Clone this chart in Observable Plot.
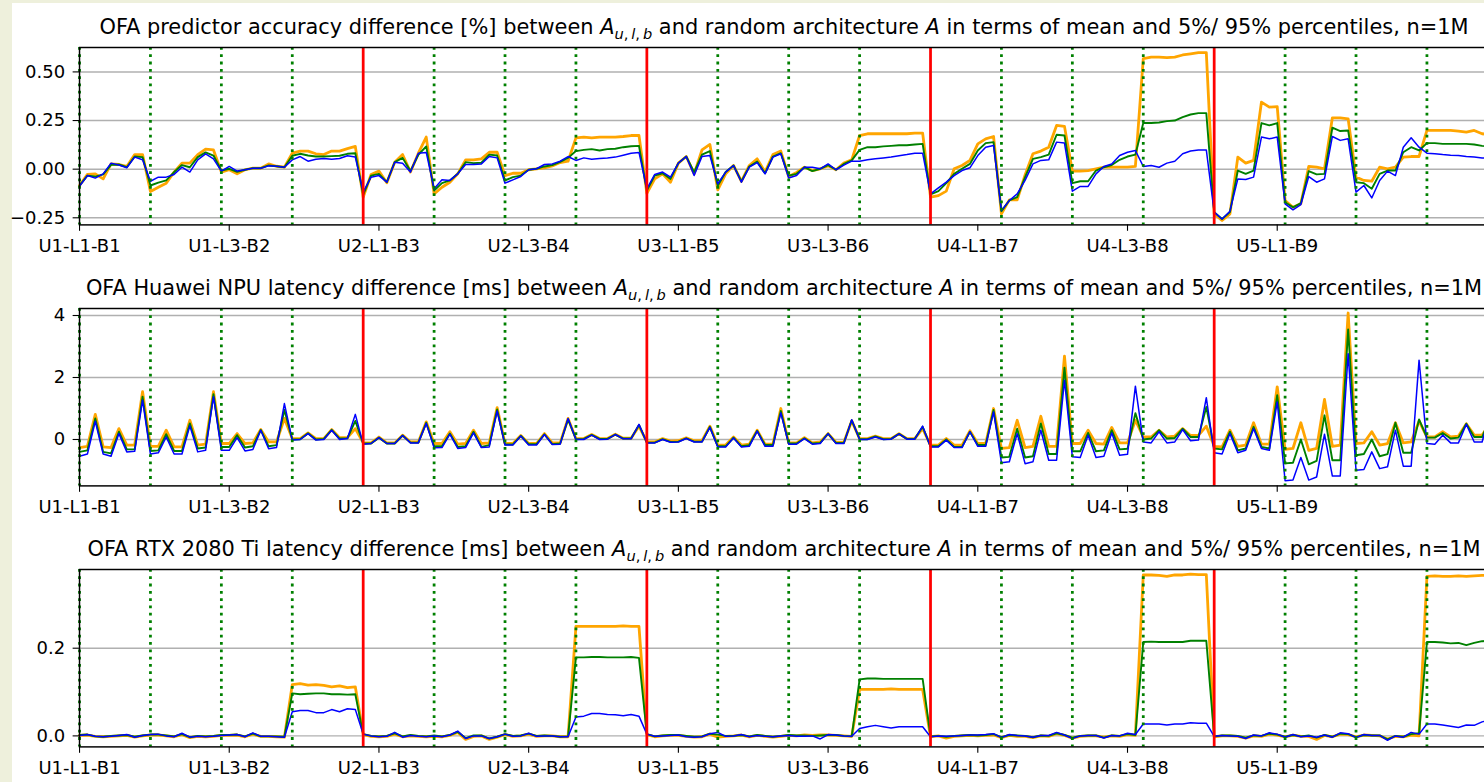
<!DOCTYPE html>
<html><head><meta charset="utf-8">
<script src="https://cdn.jsdelivr.net/npm/d3@7"></script>
<script src="https://cdn.jsdelivr.net/npm/@observablehq/plot@0.6"></script>
<style>
html,body{margin:0;padding:0;width:1484px;height:782px;overflow:hidden;background:#eef0dc;}
#page{position:absolute;left:12px;top:3px;right:0;bottom:0;background:#fff;}
.ttl{position:absolute;left:79px;width:1410px;text-align:center;font-family:"DejaVu Sans";font-size:20.9px;line-height:20.9px;white-space:nowrap;color:#000;}
.sub{font-size:70%;position:relative;top:0.32em;}
.pnl{position:absolute;left:0;}
</style></head><body>
<div id="page"></div>
<div id="charts"></div>
<script>
// ---------- data ----------
const tickIdx = [0, 19, 38, 57, 76, 95, 114, 133, 152];
const tickLabels = ["U1-L1-B1","U1-L3-B2","U2-L1-B3","U2-L3-B4","U3-L1-B5","U3-L3-B6","U4-L1-B7","U4-L3-B8","U5-L1-B9"];
const unitBounds = [36, 72, 108, 144];
const layerBounds = [0, 9, 18, 27, 45, 54, 63, 81, 90, 99, 117, 126, 135, 153, 162, 171];

const titles = [
  "OFA predictor accuracy difference [%]",
  "OFA Huawei NPU latency difference [ms]",
  "OFA RTX 2080 Ti latency difference [ms]"
];

// accuracy difference [%]
const accP95 = [
-0.084,-0.027,-0.024,-0.050,0.027,0.024,0.014,0.075,0.075,
-0.115,-0.093,-0.072,-0.015,0.031,0.031,0.075,0.103,0.099,
-0.015,-0.003,-0.024,-0.003,0.005,0.005,0.027,0.015,0.010,
0.082,0.093,0.093,0.079,0.075,0.093,0.093,0.106,0.117,
-0.144,-0.027,-0.010,-0.070,0.036,0.075,-0.015,0.082,0.165,
-0.127,-0.093,-0.067,-0.024,0.048,0.048,0.053,0.087,0.087,
-0.033,-0.021,-0.021,-0.003,0.002,0.007,0.017,0.034,0.041,
0.161,0.165,0.161,0.165,0.165,0.165,0.168,0.173,0.173,
-0.124,-0.050,-0.024,-0.067,0.031,0.065,-0.024,0.099,0.127,
-0.106,-0.024,0.019,-0.063,0.019,0.053,-0.015,0.075,0.093,
-0.038,-0.017,0.010,-0.007,0.002,0.017,-0.003,0.031,0.048,
0.173,0.182,0.182,0.182,0.182,0.182,0.182,0.185,0.185,
-0.144,-0.136,-0.113,0.002,0.019,0.045,0.130,0.156,0.168,
-0.230,-0.158,-0.158,-0.030,0.079,0.093,0.113,0.225,0.220,
-0.010,-0.010,-0.007,0.002,0.010,0.010,0.010,0.010,0.014,
0.568,0.576,0.576,0.573,0.576,0.587,0.593,0.599,0.599,
-0.230,-0.264,-0.230,0.062,0.031,0.045,0.345,0.319,0.322,
-0.161,-0.196,-0.178,0.014,0.010,0.002,0.264,0.264,0.259,
-0.041,-0.058,-0.062,0.010,0.002,0.010,0.062,0.065,0.065,
0.199,0.199,0.199,0.199,0.196,0.190,0.199,0.182,0.178];
const accMean = [
-0.084,-0.033,-0.038,-0.027,0.022,0.024,0.010,0.065,0.062,
-0.084,-0.069,-0.058,-0.015,0.021,0.010,0.062,0.086,0.070,
-0.007,0.002,-0.014,-0.003,0.005,0.005,0.019,0.015,0.010,
0.069,0.079,0.070,0.065,0.065,0.067,0.069,0.079,0.082,
-0.132,-0.033,-0.024,-0.067,0.036,0.058,-0.010,0.074,0.117,
-0.110,-0.072,-0.058,-0.024,0.036,0.031,0.033,0.075,0.070,
-0.058,-0.041,-0.033,-0.003,0.002,0.014,0.021,0.038,0.058,
0.093,0.099,0.103,0.096,0.103,0.105,0.113,0.118,0.120,
-0.110,-0.033,-0.021,-0.050,0.031,0.065,-0.015,0.075,0.093,
-0.086,-0.015,0.019,-0.063,0.014,0.039,-0.021,0.065,0.082,
-0.033,-0.024,0.010,-0.010,0.002,0.021,-0.003,0.027,0.045,
0.099,0.113,0.113,0.117,0.120,0.123,0.123,0.127,0.130,
-0.130,-0.113,-0.072,-0.024,0.002,0.027,0.096,0.134,0.139,
-0.216,-0.161,-0.144,-0.041,0.053,0.062,0.075,0.177,0.173,
-0.072,-0.062,-0.062,-0.007,0.010,0.021,0.048,0.065,0.075,
0.237,0.237,0.240,0.247,0.250,0.268,0.281,0.288,0.288,
-0.221,-0.256,-0.221,-0.007,-0.024,-0.007,0.237,0.225,0.237,
-0.170,-0.196,-0.175,-0.010,-0.027,-0.024,0.213,0.196,0.199,
-0.067,-0.072,-0.101,-0.024,-0.007,-0.007,0.087,0.113,0.096,
0.134,0.134,0.130,0.130,0.130,0.130,0.127,0.120,0.117];
const accP5 = [
-0.088,-0.033,-0.046,-0.024,0.031,0.021,0.007,0.062,0.048,
-0.062,-0.041,-0.041,-0.027,0.010,-0.015,0.048,0.079,0.053,
-0.010,0.014,-0.010,-0.003,0.005,0.005,0.017,0.015,0.010,
0.048,0.065,0.041,0.051,0.055,0.051,0.055,0.069,0.062,
-0.118,-0.041,-0.033,-0.067,0.036,0.031,-0.015,0.082,0.086,
-0.101,-0.055,-0.058,-0.024,0.024,0.024,0.027,0.065,0.058,
-0.072,-0.055,-0.038,-0.003,0.002,0.024,0.027,0.041,0.065,
0.045,0.058,0.051,0.055,0.058,0.062,0.072,0.082,0.086,
-0.101,-0.027,-0.015,-0.041,0.031,0.065,-0.033,0.065,0.070,
-0.075,-0.015,0.019,-0.067,0.010,0.034,-0.024,0.062,0.079,
-0.045,-0.033,0.010,0.010,0.002,0.027,-0.003,0.021,0.041,
0.041,0.048,0.053,0.058,0.062,0.069,0.075,0.082,0.082,
-0.127,-0.096,-0.067,-0.033,-0.007,0.007,0.070,0.113,0.122,
-0.213,-0.161,-0.127,-0.058,0.027,0.045,0.048,0.139,0.134,
-0.113,-0.089,-0.089,-0.024,0.014,0.027,0.070,0.087,0.096,
0.014,0.019,0.010,0.031,0.041,0.079,0.093,0.099,0.099,
-0.221,-0.256,-0.216,-0.050,-0.053,-0.041,0.165,0.156,0.165,
-0.178,-0.209,-0.182,-0.038,-0.067,-0.050,0.168,0.148,0.156,
-0.118,-0.084,-0.148,-0.058,-0.010,-0.033,0.113,0.161,0.113,
0.082,0.079,0.075,0.072,0.070,0.065,0.062,0.058,0.058];

// Huawei NPU latency difference [ms]
const npuP95 = [
-0.26,-0.22,0.81,-0.24,-0.26,0.35,-0.18,-0.18,1.54,
-0.22,-0.22,0.30,-0.24,-0.24,0.62,-0.18,-0.15,1.54,
-0.13,-0.13,0.19,-0.13,-0.11,0.32,-0.08,-0.08,0.68,
0.03,0.03,0.21,0.03,0.03,0.32,0.06,0.06,0.35,
-0.11,-0.11,0.08,-0.11,-0.11,0.14,-0.08,-0.08,0.57,
-0.13,-0.13,0.25,-0.15,-0.13,0.30,-0.13,-0.11,1.03,
-0.13,-0.13,0.13,-0.13,-0.13,0.19,-0.11,-0.11,0.68,
0.03,0.03,0.16,0.03,0.03,0.17,0.04,0.04,0.43,
-0.08,-0.08,0.03,-0.05,-0.04,0.05,-0.04,-0.04,0.43,
-0.18,-0.18,0.08,-0.18,-0.15,0.30,-0.15,-0.15,1.00,
-0.11,-0.11,0.06,-0.11,-0.08,0.19,-0.09,-0.09,0.60,
0.03,0.03,0.11,0.03,0.03,0.19,0.03,0.03,0.35,
-0.18,-0.18,0.03,-0.18,-0.18,0.28,-0.13,-0.13,1.00,
-0.29,-0.26,0.62,-0.26,-0.22,0.75,-0.22,-0.22,2.69,
-0.13,-0.13,0.30,-0.13,-0.15,0.39,-0.11,-0.11,0.62,
0.08,0.08,0.30,0.08,0.11,0.35,0.13,0.13,0.43,
-0.22,-0.24,0.30,-0.22,-0.18,0.54,-0.15,-0.15,1.70,
-0.32,-0.29,0.54,-0.35,-0.29,1.29,-0.22,-0.18,4.08,
-0.13,-0.11,0.25,-0.18,-0.13,0.54,-0.11,-0.08,0.60,
0.08,0.08,0.25,0.08,0.11,0.51,0.14,0.14,0.51];
const npuMean = [
-0.40,-0.35,0.68,-0.40,-0.45,0.25,-0.32,-0.32,1.38,
-0.37,-0.35,0.17,-0.37,-0.37,0.52,-0.29,-0.26,1.46,
-0.24,-0.24,0.14,-0.26,-0.22,0.31,-0.22,-0.18,0.95,
0.00,0.01,0.20,0.00,0.02,0.31,0.03,0.04,0.60,
-0.13,-0.13,0.06,-0.13,-0.13,0.13,-0.10,-0.10,0.54,
-0.22,-0.22,0.19,-0.24,-0.22,0.25,-0.24,-0.18,0.97,
-0.16,-0.16,0.12,-0.15,-0.15,0.17,-0.15,-0.13,0.65,
0.01,0.02,0.15,0.02,0.02,0.16,0.03,0.03,0.47,
-0.10,-0.10,0.01,-0.08,-0.07,0.04,-0.07,-0.07,0.41,
-0.22,-0.22,0.06,-0.22,-0.18,0.28,-0.18,-0.18,0.92,
-0.13,-0.13,0.04,-0.13,-0.11,0.19,-0.11,-0.11,0.62,
0.01,0.01,0.10,0.01,0.02,0.18,0.02,0.02,0.41,
-0.22,-0.22,0.00,-0.24,-0.24,0.25,-0.18,-0.18,0.95,
-0.58,-0.56,0.35,-0.58,-0.54,0.52,-0.47,-0.47,2.32,
-0.38,-0.38,0.21,-0.38,-0.35,0.30,-0.32,-0.30,0.85,
0.00,0.03,0.30,0.03,0.05,0.35,0.08,0.08,1.05,
-0.29,-0.32,0.25,-0.35,-0.29,0.41,-0.24,-0.29,1.43,
-0.77,-0.75,0.00,-0.80,-0.69,0.78,-0.67,-0.67,3.55,
-0.51,-0.47,0.00,-0.54,-0.47,0.54,-0.43,-0.43,0.65,
0.06,0.06,0.21,0.03,0.06,0.51,0.08,0.08,0.67];
const npuP5 = [
-0.54,-0.47,0.59,-0.47,-0.54,0.19,-0.40,-0.38,1.27,
-0.47,-0.43,0.08,-0.47,-0.47,0.44,-0.40,-0.35,1.38,
-0.35,-0.35,0.06,-0.37,-0.32,0.30,-0.30,-0.26,1.16,
-0.02,0.00,0.19,-0.02,0.00,0.30,0.00,0.03,0.81,
-0.15,-0.13,0.06,-0.13,-0.13,0.13,-0.11,-0.11,0.52,
-0.27,-0.26,0.17,-0.29,-0.26,0.21,-0.26,-0.24,0.92,
-0.18,-0.18,0.11,-0.18,-0.18,0.16,-0.16,-0.15,0.68,
0.00,0.00,0.14,0.00,0.01,0.16,0.02,0.02,0.49,
-0.11,-0.11,0.00,-0.09,-0.08,0.03,-0.08,-0.08,0.39,
-0.24,-0.24,0.05,-0.24,-0.22,0.27,-0.22,-0.22,0.86,
-0.15,-0.15,0.03,-0.15,-0.13,0.19,-0.13,-0.13,0.64,
0.00,0.00,0.08,0.00,0.01,0.18,0.01,0.01,0.43,
-0.24,-0.24,-0.02,-0.26,-0.26,0.25,-0.22,-0.22,0.89,
-0.75,-0.72,0.19,-0.78,-0.72,0.30,-0.67,-0.67,1.91,
-0.56,-0.58,0.14,-0.58,-0.54,0.21,-0.51,-0.48,1.72,
-0.08,-0.11,0.25,-0.11,-0.08,0.32,-0.04,-0.02,1.35,
-0.43,-0.47,0.19,-0.43,-0.35,0.35,-0.29,-0.35,1.21,
-1.33,-1.31,-0.58,-1.31,-1.21,0.17,-1.18,-1.18,2.77,
-0.99,-0.97,-0.40,-0.94,-0.88,0.30,-0.86,-0.86,2.56,
-0.13,-0.15,0.14,-0.11,-0.11,0.49,-0.08,-0.08,0.84];

// RTX 2080 Ti latency difference [ms]
const rtxP95 = [
0.001,0.002,-0.001,-0.002,-0.001,0.000,0.001,-0.003,0.000,
0.002,0.002,0.000,-0.002,0.003,-0.004,-0.001,-0.002,-0.001,
0.001,0.001,0.002,-0.002,0.004,-0.001,-0.001,-0.002,-0.003,
0.117,0.119,0.116,0.117,0.115,0.112,0.114,0.110,0.112,
0.003,-0.001,-0.002,-0.001,0.004,-0.002,0.000,-0.001,-0.002,
-0.001,-0.002,0.001,0.008,-0.008,-0.001,0.000,-0.008,-0.003,
0.003,-0.001,0.000,0.004,-0.001,0.000,0.000,-0.002,-0.002,
0.250,0.250,0.250,0.250,0.250,0.250,0.251,0.250,0.250,
0.003,-0.002,0.000,0.001,0.001,-0.001,-0.003,-0.002,0.004,
-0.003,-0.001,0.000,0.002,-0.002,0.001,-0.001,-0.003,-0.001,
0.001,0.000,0.002,0.001,0.002,0.002,0.001,0.000,-0.001,
0.106,0.106,0.106,0.106,0.107,0.106,0.106,0.106,0.106,
-0.002,0.000,-0.005,-0.001,0.000,0.001,0.000,0.001,0.002,
-0.004,0.001,-0.001,-0.001,-0.004,0.000,-0.001,0.005,0.001,
-0.005,-0.001,0.000,0.000,-0.003,0.000,-0.001,0.003,0.001,
0.367,0.367,0.366,0.364,0.367,0.367,0.369,0.368,0.368,
-0.002,0.000,0.000,-0.001,-0.005,0.000,-0.001,0.004,0.002,
-0.002,0.002,-0.001,-0.001,-0.008,0.001,-0.002,0.004,0.003,
-0.002,0.002,0.001,0.000,-0.007,-0.001,-0.002,0.002,0.000,
0.364,0.365,0.364,0.364,0.365,0.364,0.365,0.366,0.366];
const rtxMean = [
0.002,0.003,-0.001,-0.002,0.000,0.001,0.002,-0.002,0.001,
0.003,0.003,0.001,-0.001,0.004,-0.003,0.000,-0.001,0.000,
0.002,0.002,0.003,-0.001,0.005,-0.001,-0.001,-0.001,-0.002,
0.097,0.095,0.096,0.097,0.097,0.095,0.095,0.094,0.095,
0.004,0.000,-0.001,0.000,0.006,-0.001,0.002,0.000,-0.001,
0.001,-0.001,0.002,0.009,-0.005,0.001,0.001,-0.006,-0.002,
0.004,0.000,0.001,0.005,0.000,0.001,0.000,-0.002,-0.001,
0.179,0.179,0.180,0.180,0.179,0.179,0.179,0.180,0.178,
0.004,-0.001,0.001,0.002,0.002,0.000,-0.002,-0.001,0.005,
0.003,0.000,0.000,0.002,-0.001,0.002,0.000,-0.002,0.000,
0.002,0.001,0.001,0.000,0.001,0.002,0.002,0.000,-0.001,
0.129,0.131,0.131,0.130,0.130,0.130,0.130,0.130,0.130,
-0.001,0.000,-0.002,0.000,0.001,0.002,0.001,0.002,0.004,
-0.003,0.002,0.001,0.000,-0.003,0.001,0.000,0.006,0.002,
-0.004,0.000,0.001,0.001,-0.004,0.001,0.000,0.004,0.002,
0.214,0.215,0.214,0.214,0.214,0.214,0.217,0.217,0.217,
-0.001,0.001,0.001,0.000,-0.004,0.001,0.000,0.005,0.003,
-0.002,0.002,-0.001,0.001,-0.004,0.002,-0.002,0.005,0.004,
-0.003,0.002,0.001,0.001,-0.008,0.000,-0.002,0.004,0.006,
0.214,0.214,0.213,0.211,0.212,0.207,0.212,0.216,0.217];
const rtxP5 = [
0.001,0.003,-0.001,-0.002,-0.001,0.001,0.003,-0.003,0.001,
0.003,0.004,0.000,-0.002,0.006,-0.003,-0.001,-0.002,-0.001,
0.001,0.002,0.003,-0.002,0.007,-0.001,-0.001,-0.002,-0.003,
0.055,0.058,0.058,0.053,0.053,0.060,0.055,0.062,0.060,
0.004,0.000,-0.002,-0.001,0.008,-0.003,0.001,-0.001,-0.002,
0.000,-0.002,0.002,0.011,-0.006,0.000,0.000,-0.006,-0.002,
0.004,-0.001,0.000,0.006,-0.001,0.000,0.000,-0.002,-0.002,
0.043,0.045,0.051,0.051,0.049,0.048,0.046,0.049,0.045,
0.004,-0.001,0.000,0.001,0.002,-0.002,-0.003,-0.002,0.005,
0.008,-0.001,0.000,0.003,-0.002,0.001,-0.001,-0.002,0.000,
0.001,-0.001,-0.001,0.000,-0.007,0.003,0.002,0.000,-0.001,
0.017,0.021,0.024,0.021,0.018,0.021,0.021,0.021,0.021,
-0.002,0.000,-0.001,0.000,0.001,0.002,0.002,0.003,0.005,
-0.004,0.003,0.001,0.000,-0.003,0.001,0.001,0.008,0.002,
-0.006,0.000,0.001,0.001,-0.005,0.001,0.000,0.006,0.003,
0.027,0.027,0.027,0.025,0.027,0.027,0.030,0.029,0.029,
-0.001,0.001,0.000,-0.001,-0.006,0.002,0.000,0.007,0.004,
-0.003,0.003,-0.002,0.000,-0.003,0.002,-0.003,0.007,0.005,
-0.004,0.003,0.001,0.001,-0.010,0.000,-0.003,0.008,0.004,
0.027,0.027,0.025,0.022,0.019,0.025,0.024,0.032,0.036];

const accTicks = [-0.25, 0, 0.25, 0.5];
const npuTicks = [0, 2, 4];
const rtxTicks = [0, 0.2];

// ---------- drawing ----------
const minus = s => s.replace("-", "\u2212");
const panels = [
  {top: 47.3, domain: [-0.2865, 0.6255], ticks: accTicks, fmt: d => minus(d.toFixed(2)), s: [accP95, accMean, accP5]},
  {top: 308.3, domain: [-1.497, 4.226], ticks: npuTicks, fmt: d => minus(String(d)), s: [npuP95, npuMean, npuP5]},
  {top: 569.3, domain: [-0.0251, 0.3795], ticks: rtxTicks, fmt: d => minus(d.toFixed(1)), s: [rtxP95, rtxMean, rtxP5]}
];
const colors = ["#ffa500", "#008000", "#0000ff"];
const widths = [2.8, 1.9, 1.5];
const host = document.getElementById("charts");

panels.forEach((p, k) => {
  const t = document.createElement("div");
  t.className = "ttl";
  t.style.top = (p.top - 12.5 - 17.7) + "px";
  t.innerHTML = titles[k] + ' between <i>A</i><span class="sub"><i>u</i>,\u2009<i>l</i>,\u2009<i>b</i></span> and random architecture <i>A</i> in terms of mean and 5%/ 95% percentiles, n=1M';
  host.appendChild(t);

  const chart = Plot.plot({
    width: 1500, height: 227.4,
    marginTop: 10, marginBottom: 40, marginLeft: 79, marginRight: 10.5,
    style: {background: "transparent", maxWidth: "none", fontFamily: "DejaVu Sans", fontSize: "18px", color: "#000", overflow: "visible"},
    x: {domain: [0, 179]},
    y: {domain: p.domain},
    marks: [
      Plot.gridY(p.ticks, {stroke: "#b0b0b0", strokeOpacity: 1, strokeWidth: 1.47}),
      ...p.s.map((arr, j) => Plot.lineY(arr, {stroke: colors[j], strokeWidth: widths[j], strokeLinejoin: "round"})),
      Plot.ruleX(layerBounds, {stroke: "#008000", strokeWidth: 2.76, strokeDasharray: "2.76 4.55"}),
      Plot.ruleX(unitBounds, {stroke: "#ff0000", strokeWidth: 2.76}),
      Plot.frame({stroke: "#000", strokeWidth: 1.47}),
      Plot.axisX(tickIdx, {tickFormat: d => tickLabels[tickIdx.indexOf(d)], tickSize: 6.4, tickPadding: 8, fontSize: 18, strokeWidth: 1.1, label: null}),
      Plot.axisY(p.ticks, {tickFormat: p.fmt, tickSize: 6.4, tickPadding: 8, fontSize: 18, strokeWidth: 1.1, label: null})
    ]
  });
  chart.classList.add("pnl");
  chart.style.top = (p.top - 10) + "px";
  host.appendChild(chart);
});
</script></body></html>
